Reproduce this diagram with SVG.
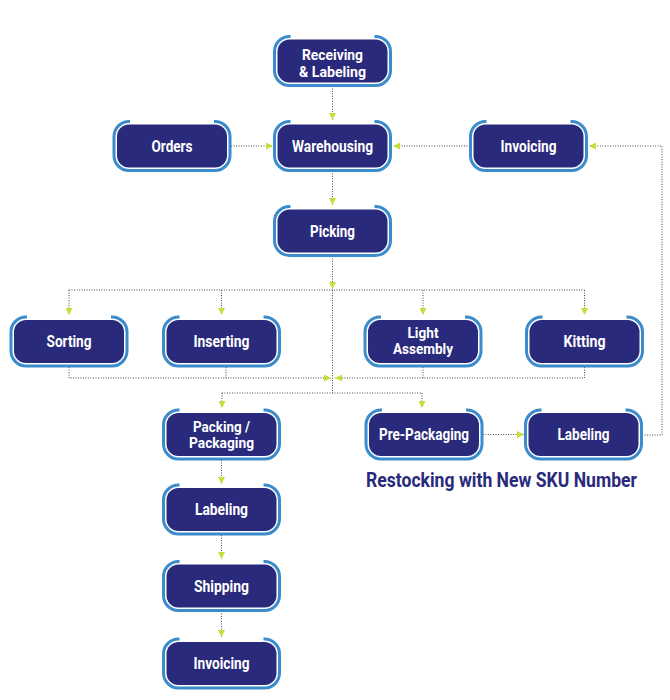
<svg xmlns="http://www.w3.org/2000/svg" xmlns:xlink="http://www.w3.org/1999/xlink" width="670" height="700" viewBox="0 0 670 700">
<defs>
<style>
.conn{fill:none;stroke:#4a4a4a;stroke-width:1;stroke-dasharray:1 1.5}
.lbl{font-family:Roboto,"Liberation Sans",sans-serif;font-weight:700;font-size:16px;fill:#ffffff;text-anchor:middle}
.lbl2{font-size:15px}
.title{font-family:Roboto,"Liberation Sans",sans-serif;font-weight:700;font-size:20px;fill:#2a2a7c}
</style>
<marker id="arr" markerUnits="userSpaceOnUse" markerWidth="7" markerHeight="7" viewBox="0 0 6 6" refX="6" refY="3" orient="auto">
<path d="M0,0 L6,3 L0,6 z" fill="#c8dc3a"/>
</marker>
<g id="box">
<rect x="-55" y="-21.5" width="110" height="43" rx="12" fill="#2a2a7c"/>
<path d="M-42,-24.5 L-43,-24.5 A15 15 0 0 0 -58,-9.5 L-58,9.5 A15 15 0 0 0 -43,24.5 L43,24.5 A15 15 0 0 0 58,9.5 L58,-9.5 A15 15 0 0 0 43,-24.5 L42,-24.5" fill="none" stroke="#3a8ccc" stroke-width="3"/>
</g>
</defs>
<rect width="670" height="700" fill="#ffffff"/>
<g id="connectors">
<path class="conn" d="M332.5,86 V120" marker-end="url(#arr)"/>
<path class="conn" d="M231,146 H273" marker-end="url(#arr)"/>
<path class="conn" d="M470,146 H393" marker-end="url(#arr)"/>
<path class="conn" d="M642,435 H662 V146 H589" marker-end="url(#arr)"/>
<path class="conn" d="M332.5,171 V205" marker-end="url(#arr)"/>
<path class="conn" d="M332.5,256 V289" marker-end="url(#arr)"/>
<path class="conn" d="M69,290 H584.5"/>
<path class="conn" d="M69,290 V315" marker-end="url(#arr)"/>
<path class="conn" d="M221.5,290 V315" marker-end="url(#arr)"/>
<path class="conn" d="M423,290 V315" marker-end="url(#arr)"/>
<path class="conn" d="M584.5,290 V315" marker-end="url(#arr)"/>
<path class="conn" d="M332.5,290 V393"/>
<path class="conn" d="M69,367 V378 H331" marker-end="url(#arr)"/>
<path class="conn" d="M226,367 V378"/>
<path class="conn" d="M584.5,367 V378 H335" marker-end="url(#arr)"/>
<path class="conn" d="M423,367 V378"/>
<path class="conn" d="M222,393 H422"/>
<path class="conn" d="M222,393 V408" marker-end="url(#arr)"/>
<path class="conn" d="M422,393 V408" marker-end="url(#arr)"/>
<path class="conn" d="M483,434.5 H524" marker-end="url(#arr)"/>
<path class="conn" d="M221.5,460 V484" marker-end="url(#arr)"/>
<path class="conn" d="M221.5,535 V559" marker-end="url(#arr)"/>
<path class="conn" d="M221.5,611 V637" marker-end="url(#arr)"/>
</g>
<g id="receiving" transform="translate(332.5,61)"><use xlink:href="#box"/><text class="lbl lbl2" y="-1" textLength="61" lengthAdjust="spacingAndGlyphs">Receiving</text><text class="lbl lbl2" y="15.5" textLength="67" lengthAdjust="spacingAndGlyphs">&amp; Labeling</text></g>
<g id="warehousing" transform="translate(332.5,146)"><use xlink:href="#box"/><text class="lbl" y="5.5" textLength="81" lengthAdjust="spacingAndGlyphs">Warehousing</text></g>
<g id="orders" transform="translate(172,146)"><use xlink:href="#box"/><text class="lbl" y="5.5" textLength="41" lengthAdjust="spacingAndGlyphs">Orders</text></g>
<g id="invoicing-top" transform="translate(528.5,146)"><use xlink:href="#box"/><text class="lbl" y="5.5" textLength="56" lengthAdjust="spacingAndGlyphs">Invoicing</text></g>
<g id="picking" transform="translate(332.5,231)"><use xlink:href="#box"/><text class="lbl" y="5.5" textLength="45" lengthAdjust="spacingAndGlyphs">Picking</text></g>
<g id="sorting" transform="translate(69,341.5)"><use xlink:href="#box"/><text class="lbl" y="5.5" textLength="45" lengthAdjust="spacingAndGlyphs">Sorting</text></g>
<g id="inserting" transform="translate(221.5,341.5)"><use xlink:href="#box"/><text class="lbl" y="5.5" textLength="56" lengthAdjust="spacingAndGlyphs">Inserting</text></g>
<g id="light-assembly" transform="translate(423,341.5)"><use xlink:href="#box"/><text class="lbl lbl2" y="-4" textLength="31" lengthAdjust="spacingAndGlyphs">Light</text><text class="lbl lbl2" y="12.5" textLength="60" lengthAdjust="spacingAndGlyphs">Assembly</text></g>
<g id="kitting" transform="translate(584.5,341.5)"><use xlink:href="#box"/><text class="lbl" y="5.5" textLength="42" lengthAdjust="spacingAndGlyphs">Kitting</text></g>
<g id="packing" transform="translate(221.5,434.5)"><use xlink:href="#box"/><text class="lbl lbl2" y="-3" textLength="57" lengthAdjust="spacingAndGlyphs">Packing /</text><text class="lbl lbl2" y="13.7" textLength="65" lengthAdjust="spacingAndGlyphs">Packaging</text></g>
<g id="pre-packaging" transform="translate(424,434.5)"><use xlink:href="#box"/><text class="lbl" y="5.5" textLength="90" lengthAdjust="spacingAndGlyphs">Pre-Packaging</text></g>
<g id="labeling-right" transform="translate(583.5,434.5)"><use xlink:href="#box"/><text class="lbl" y="5.5" textLength="52" lengthAdjust="spacingAndGlyphs">Labeling</text></g>
<g id="labeling-left" transform="translate(221.5,509.5)"><use xlink:href="#box"/><text class="lbl" y="5.5" textLength="53" lengthAdjust="spacingAndGlyphs">Labeling</text></g>
<g id="shipping" transform="translate(221.5,586)"><use xlink:href="#box"/><text class="lbl" y="5.5" textLength="55" lengthAdjust="spacingAndGlyphs">Shipping</text></g>
<g id="invoicing-bottom" transform="translate(221.5,663.5)"><use xlink:href="#box"/><text class="lbl" y="5.5" textLength="56" lengthAdjust="spacingAndGlyphs">Invoicing</text></g>
<text class="title" x="366" y="487" textLength="271" lengthAdjust="spacingAndGlyphs">Restocking with New SKU Number</text>
</svg>
